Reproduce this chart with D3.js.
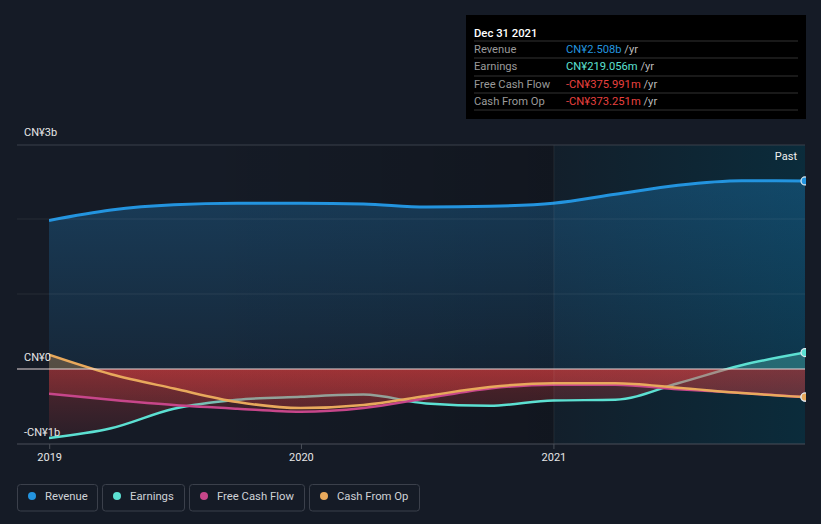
<!DOCTYPE html>
<html><head><meta charset="utf-8">
<script src="https://cdn.jsdelivr.net/npm/d3@7"></script>
<style>
html,body{margin:0;padding:0;background:#151b26;}
svg{display:block;font-family:Roboto,"Open Sans",sans-serif;}
</style></head>
<body><svg id="c" width="821" height="524"></svg>
<script>
const dates = ["2018-12-31","2019-03-31","2019-06-30","2019-09-30","2019-12-31","2020-03-31","2020-06-30","2020-09-30","2020-12-31","2021-03-31","2021-06-30","2021-09-30","2021-12-31"];
const revenue = [1.98,2.12,2.19,2.21,2.21,2.20,2.16,2.17,2.21,2.33,2.45,2.51,2.508];
const earnings = [-0.92,-0.79,-0.53,-0.41,-0.37,-0.34,-0.46,-0.49,-0.42,-0.41,-0.19,0.05,0.219];
const freeCashFlow = [-0.33,-0.41,-0.48,-0.53,-0.57,-0.52,-0.39,-0.26,-0.21,-0.21,-0.27,-0.32,-0.376];
const cashFromOp = [0.19,-0.07,-0.26,-0.44,-0.52,-0.48,-0.36,-0.24,-0.19,-0.19,-0.25,-0.32,-0.373];
const yTicks = [3,0,-1];
const yTickLabels = ["CN¥3b","CN¥0","-CN¥1b"];
const xTicks = ["2019-01-01","2020-01-01","2021-01-01"];
const xTickLabels = ["2019","2020","2021"];
const seriesNames = ["Revenue","Earnings","Free Cash Flow","Cash From Op"];
const seriesColors = ["#2394df","#5ce0d2","#c7468a","#e8a95c"];
const tooltipTitle = "Dec 31 2021";
const tooltipValues = ["CN¥2.508b","CN¥219.056m","-CN¥375.991m","-CN¥373.251m"];
const tooltipColors = ["#2394df","#5ce0d2","#e8413f","#e8413f"];
const pastStart = "2021-01-01";

const parse = d3.timeParse("%Y-%m-%d");
const svg = d3.select("#c");
const x = d3.scaleTime().domain([parse(dates[0]), parse(dates[dates.length-1])]).range([49,805]);
const y = d3.scaleLinear().domain([-1,3]).range([444,144]);
const L = 17, R = 805;

const defs = svg.append("defs");
function lg(id, attrs, stops){
  const g = defs.append("linearGradient").attr("id",id).attr("gradientUnits","userSpaceOnUse");
  Object.entries(attrs).forEach(([k,v])=>g.attr(k,v));
  stops.forEach(s=>g.append("stop").attr("offset",s[0]).attr("stop-color",s[1]).attr("stop-opacity",s[2]));
}
lg("past",{x1:x(parse(pastStart)),x2:R,y1:0,y2:0},[[0,"rgb(0,60,80)",0.12],[1,"rgb(0,60,80)",0.5]]);
lg("dark",{x1:200,x2:x(parse(pastStart)),y1:0,y2:0},[[0,"#000",0],[1,"#000",0.18]]);
lg("revArea",{x1:0,x2:0,y1:y(2.5),y2:y(0)},[[0,"#2394df",0.28],[1,"#2394df",0.1]]);
lg("neg",{x1:0,x2:0,y1:y(0),y2:y(-1)},[[0,"#e64040",0.3],[1,"#e64040",0.08]]);

defs.append("clipPath").attr("id","plot").append("rect").attr("x",49).attr("y",140).attr("width",R-49+1).attr("height",310);
defs.append("clipPath").attr("id","pos").append("rect").attr("x",49).attr("y",140).attr("width",R-49).attr("height",y(0)-140);
defs.append("clipPath").attr("id","negc").append("rect").attr("x",49).attr("y",y(0)).attr("width",R-49).attr("height",444-y(0));

// backgrounds
svg.append("rect").attr("x",200).attr("y",145).attr("width",x(parse(pastStart))-200).attr("height",299).attr("fill","url(#dark)");
svg.append("rect").attr("x",x(parse(pastStart))).attr("y",145).attr("width",R-x(parse(pastStart))).attr("height",299).attr("fill","url(#past)");

const pts = arr => arr.map((v,i)=>({d:parse(dates[i]),v}));
const area = d3.area().x(d=>x(d.d)).y0(y(0)).y1(d=>y(d.v)).curve(d3.curveMonotoneX);
const line = d3.line().x(d=>x(d.d)).y(d=>y(d.v)).curve(d3.curveMonotoneX);

const g = svg.append("g").attr("clip-path","url(#plot)");
g.append("path").datum(pts(revenue)).attr("d",area).attr("fill","url(#revArea)");
[2,1].forEach(t=>{
  svg.append("line").attr("x1",L).attr("x2",R).attr("y1",y(t)).attr("y2",y(t)).attr("stroke","rgba(255,255,255,0.07)");
});
svg.append("line").attr("x1",x(parse(pastStart))).attr("x2",x(parse(pastStart))).attr("y1",145).attr("y2",444).attr("stroke","rgba(255,255,255,0.07)");
g.append("path").datum(pts(revenue)).attr("d",line).attr("fill","none").attr("stroke",seriesColors[0]).attr("stroke-width",3);

const others = [earnings, freeCashFlow, cashFromOp];
others.forEach((arr,i)=>{
  const c = seriesColors[i+1];
  const p = pts(arr);
  g.append("path").datum(p).attr("d",area).attr("clip-path","url(#pos)").attr("fill",c).attr("fill-opacity",0.3);
  g.append("path").datum(p).attr("d",area).attr("clip-path","url(#negc)").attr("fill","url(#neg)");
  g.append("path").datum(p).attr("d",line).attr("fill","none").attr("stroke",c).attr("stroke-width",2.5);
});

svg.append("line").attr("x1",L).attr("x2",R).attr("y1",145).attr("y2",145).attr("stroke","#3b414b");
svg.append("line").attr("x1",L).attr("x2",R).attr("y1",444).attr("y2",444).attr("stroke","#4a4f58");
svg.append("line").attr("x1",L).attr("x2",R).attr("y1",y(0)).attr("y2",y(0)).attr("stroke","#e8dada").attr("stroke-width",1);

const last = dates.length-1;
[[revenue,0],[earnings,1],[freeCashFlow,2],[cashFromOp,3]].forEach(([arr,i])=>{
  g.append("circle").attr("cx",x(parse(dates[last]))).attr("cy",y(arr[last])).attr("r",4)
   .attr("fill",seriesColors[i]).attr("stroke","#dfe8ee").attr("stroke-width",1.2);
});

const yBase = [136,361,436];
yTicks.forEach((t,i)=>{
  svg.append("text").attr("x",24).attr("y",yBase[i]).attr("fill","#e6e6e6").attr("font-size",11).text(yTickLabels[i]);
});
xTicks.forEach((t,i)=>{
  const xx = x(parse(t));
  svg.append("line").attr("x1",xx).attr("x2",xx).attr("y1",444).attr("y2",449).attr("stroke","#4a4f58");
  svg.append("text").attr("x",xx).attr("y",461).attr("text-anchor","middle").attr("fill","#e6e6e6").attr("font-size",11).text(xTickLabels[i]);
});
svg.append("text").attr("x",797).attr("y",160).attr("text-anchor","end").attr("fill","#f0f0f0").attr("font-size",11).text("Past");

const tt = svg.append("g");
tt.append("rect").attr("x",466).attr("y",15).attr("width",340).attr("height",104).attr("fill","#000");
tt.append("text").attr("x",474).attr("y",37).attr("fill","#fff").attr("font-size",11.3).attr("font-weight",500).text(tooltipTitle);
[41,58,76,93,110].forEach(yy=>tt.append("line").attr("x1",474).attr("x2",798).attr("y1",yy).attr("y2",yy).attr("stroke","#333"));
seriesNames.forEach((n,i)=>{
  const yy = 53 + i*17.4;
  tt.append("text").attr("x",474).attr("y",yy).attr("fill","#9a9a9a").attr("font-size",11.2).text(n);
  const t = tt.append("text").attr("x",566).attr("y",yy).attr("font-size",11.2);
  t.append("tspan").attr("fill",tooltipColors[i]).text(tooltipValues[i]);
  t.append("tspan").attr("fill","#bbbbbb").text(" /yr");
});

const lx = [17,102,189,309];
const lw = [80,82,115,110];
seriesNames.forEach((n,i)=>{
  svg.append("rect").attr("x",lx[i]+0.5).attr("y",484.5).attr("width",lw[i]).attr("height",26.5).attr("rx",3)
    .attr("fill","none").attr("stroke","#3b404b");
  svg.append("circle").attr("cx",lx[i]+15).attr("cy",496).attr("r",4).attr("fill",seriesColors[i]);
  svg.append("text").attr("x",lx[i]+28).attr("y",500).attr("fill","#cfd2d6").attr("font-size",11.3).text(n);
});
</script></body></html>
